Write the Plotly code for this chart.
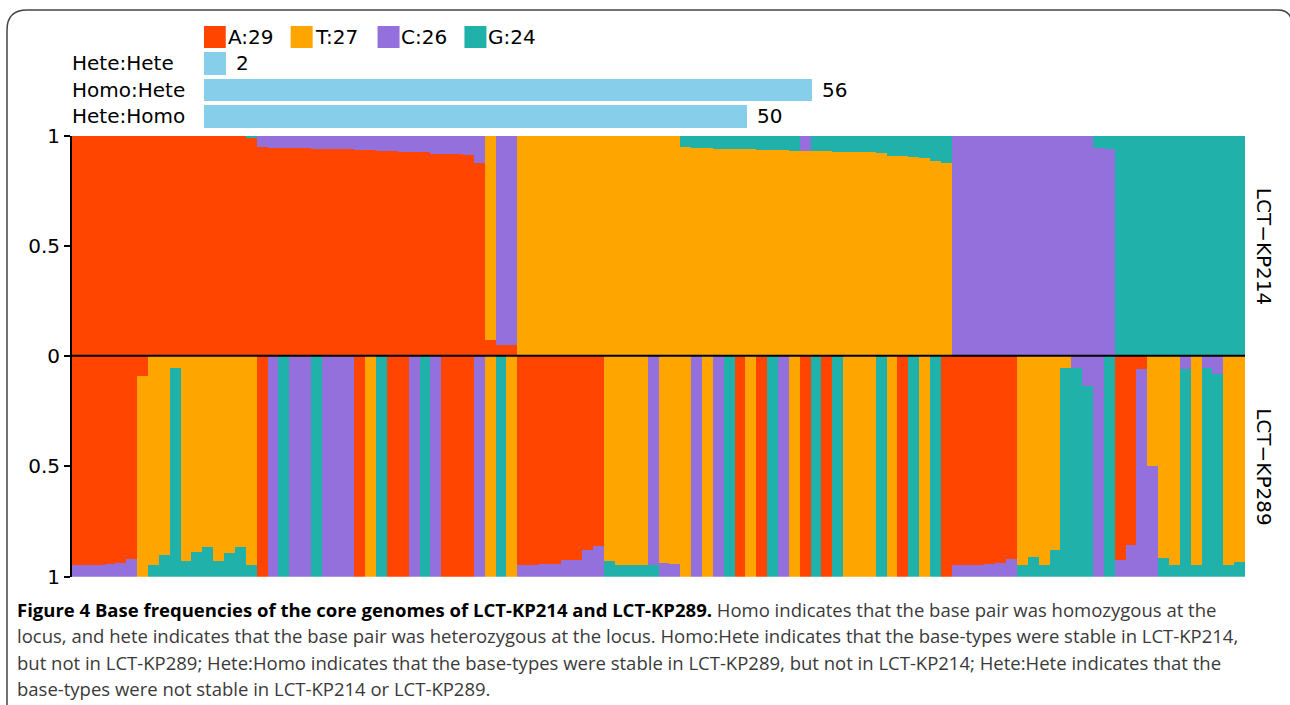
import plotly.graph_objects as go

W, H = 1290, 705

# ---------------- data ----------------
bases = ["A", "T", "C", "G"]
base_counts = [29, 27, 26, 24]
base_colors = ["#FF4500", "#FFA500", "#9370DB", "#20B2AA"]

pair_types = ["Hete:Hete", "Homo:Hete", "Hete:Homo"]
pair_counts = [2, 56, 50]

# LCT-KP214 base fractions per locus (A, T, C, G)
kp214_A = ([1.0] * 16 + [0.99] +
           [0.95, 0.947, 0.946, 0.945, 0.944, 0.943, 0.942, 0.941, 0.94, 0.935, 0.935,
            0.934, 0.933, 0.926, 0.926, 0.925, 0.917, 0.917, 0.916, 0.912, 0.876] +
           [0.07, 0.05, 0.05] + [0.0] * 67)
kp214_T = ([0.0] * 38 + [0.93, 0.0, 0.0] + [1.0] * 15 +
           [0.95, 0.946, 0.944, 0.943, 0.941, 0.94, 0.939, 0.938, 0.936, 0.935, 0.933,
            0.932, 0.932, 0.931, 0.927, 0.927, 0.926, 0.926, 0.922, 0.91, 0.91, 0.903,
            0.898, 0.888, 0.876] + [0.0] * 27)
kp214_C = ([0.0] * 17 +
           [0.05, 0.053, 0.054, 0.055, 0.056, 0.057, 0.058, 0.059, 0.06, 0.065, 0.065,
            0.066, 0.067, 0.074, 0.074, 0.075, 0.083, 0.083, 0.084, 0.088, 0.124] +
           [0.0, 0.95, 0.95] + [0.0] * 26 + [0.068] + [0.0] * 13 +
           [1.0] * 13 + [0.947, 0.941] + [0.0] * 12)
kp214_G = ([0.0] * 16 + [0.01] + [0.0] * 39 +
           [0.05, 0.054, 0.056, 0.057, 0.059, 0.06, 0.061, 0.062, 0.064, 0.065, 0.067,
            0.0, 0.068, 0.069, 0.073, 0.073, 0.074, 0.074, 0.078, 0.09, 0.09, 0.097,
            0.102, 0.112, 0.124] + [0.0] * 13 + [0.053, 0.059] + [1.0] * 12)

# LCT-KP289 base fractions per locus (A, T, C, G), 10 loci per row
kp289_A = [0.947, 0.944, 0.944, 0.94, 0.935, 0.917, 0.09, 0, 0, 0,
           0, 0, 0, 0, 0, 0, 0, 1, 0, 0,
           0, 0, 0, 0, 0, 0, 1, 0, 0, 1,
           1, 0, 0, 0, 1, 1, 1, 0, 0, 0,
           0, 0.944, 0.944, 0.942, 0.94, 0.925, 0.922, 0.88, 0.861, 0,
           0, 0, 0, 0, 0, 0, 0, 0, 0, 0,
           0, 1, 0, 1, 0, 0, 0, 1, 0, 1,
           0, 0, 0, 0, 0, 0, 1, 0, 0, 0,
           1, 0.947, 0.944, 0.944, 0.94, 0.935, 0.917, 0, 0, 0,
           0, 0, 0, 0, 0, 0, 0.921, 0.855, 0.06, 0,
           0, 0, 0, 0, 0, 0, 0, 0]
kp289_T = [0, 0, 0, 0, 0, 0, 0.91, 0.944, 0.9, 0.056,
           0.927, 0.888, 0.864, 0.927, 0.891, 0.864, 0.947, 0, 0, 0,
           0, 0, 0, 0, 0, 0, 0, 1, 0, 0,
           0, 0, 0, 0, 0, 0, 0, 0, 1, 0,
           1, 0, 0, 0, 0, 0, 0, 0, 0, 0.929,
           0.944, 0.944, 0.944, 0, 0.935, 0.94, 1, 0, 1, 0,
           0, 0, 1, 0, 0, 0, 1, 0, 0, 0,
           0, 1, 1, 1, 0, 1, 0, 0, 1, 0,
           0, 0, 0, 0, 0, 0, 0, 0.944, 0.91, 0.944,
           0.88, 0.056, 0, 0, 0, 0, 0, 0, 0, 0.497,
           0.914, 0.944, 0, 0.944, 0, 0, 0.947, 0.932]
kp289_C = [0.053, 0.056, 0.056, 0.06, 0.065, 0.083, 0, 0, 0, 0,
           0, 0, 0, 0, 0, 0, 0, 0, 1, 0,
           1, 1, 0, 1, 1, 1, 0, 0, 0, 0,
           0, 1, 0, 1, 0, 0, 0, 1, 0, 0,
           0, 0.056, 0.056, 0.058, 0.06, 0.075, 0.078, 0.12, 0.139, 0,
           0, 0, 0, 0.944, 0.065, 0.06, 0, 1, 0, 1,
           0, 0, 0, 0, 0, 1, 0, 0, 0, 0,
           0, 0, 0, 0, 0, 0, 0, 0, 0, 0,
           0, 0.053, 0.056, 0.056, 0.06, 0.065, 0.083, 0, 0, 0,
           0, 0, 0.056, 0.136, 1, 0, 0.079, 0.145, 0.94, 0.503,
           0, 0, 0.059, 0, 0.056, 0.083, 0, 0]
kp289_G = [0, 0, 0, 0, 0, 0, 0, 0.056, 0.1, 0.944,
           0.073, 0.112, 0.136, 0.073, 0.109, 0.136, 0.053, 0, 0, 1,
           0, 0, 1, 0, 0, 0, 0, 0, 1, 0,
           0, 0, 1, 0, 0, 0, 0, 0, 0, 1,
           0, 0, 0, 0, 0, 0, 0, 0, 0, 0.071,
           0.056, 0.056, 0.056, 0.056, 0, 0, 0, 0, 0, 0,
           1, 0, 0, 0, 1, 0, 0, 0, 1, 0,
           1, 0, 0, 0, 1, 0, 0, 1, 0, 1,
           0, 0, 0, 0, 0, 0, 0, 0.056, 0.09, 0.056,
           0.12, 0.944, 0.944, 0.864, 0, 1, 0, 0, 0, 0,
           0.086, 0.056, 0.941, 0.056, 0.944, 0.917, 0.053, 0.068]

kp214 = [kp214_A, kp214_T, kp214_C, kp214_G]
kp289 = [kp289_A, kp289_T, kp289_C, kp289_G]
n_loci = len(kp214_A)
loci = list(range(n_loci))

caption_lines = [
    "<b>Figure 4 Base frequencies of the core genomes of LCT-KP214 and LCT-KP289.</b> "
    "Homo indicates that the base pair was homozygous at the",
    "locus, and hete indicates that the base pair was heterozygous at the locus. "
    "Homo:Hete indicates that the base-types were stable in LCT-KP214,",
    "but not in LCT-KP289; Hete:Homo indicates that the base-types were stable in LCT-KP289, "
    "but not in LCT-KP214; Hete:Hete indicates that the",
    "base-types were not stable in LCT-KP214 or LCT-KP289.",
]

# ---------------- layout helpers ----------------
def fx(p):
    return p / W

def fy(p):
    return 1 - p / H

FONT = "DejaVu Sans"
CAP_FONT = "Open Sans"
PLOT_L, PLOT_R = 72, 1245
TOP_Y1, MID_Y, BOT_Y1 = 136, 355.7, 576.7
UNIT = (PLOT_R - PLOT_L) / n_loci  # px per locus, also px per count
BAR_X0 = 203.9
SEG_LINE = dict(width=0)

fig = go.Figure()

for i, b in enumerate(bases):
    fig.add_trace(go.Bar(x=loci, y=kp214[i], marker=dict(color=base_colors[i], line=SEG_LINE),
                         xaxis="x", yaxis="y", showlegend=False, name=b))
for i, b in enumerate(bases):
    fig.add_trace(go.Bar(x=loci, y=kp289[i], marker=dict(color=base_colors[i], line=SEG_LINE),
                         xaxis="x2", yaxis="y2", showlegend=False, name=b))

# counts bars
fig.add_trace(go.Bar(x=pair_counts, y=[1, 2, 3], orientation="h", width=0.85,
                     marker=dict(color="#87CEEB", line=dict(width=0)),
                     xaxis="x3", yaxis="y3", showlegend=False))
# legend squares
fig.add_trace(go.Scatter(x=[8 * i + 1 for i in range(len(bases))], y=[0] * len(bases),
                         mode="markers", marker=dict(symbol="square", size=22,
                                                     color=base_colors, line=dict(width=0)),
                         xaxis="x3", yaxis="y3", showlegend=False, hoverinfo="skip"))

annotations = []
for i, b in enumerate(bases):
    annotations.append(dict(x=8 * i + 2, y=0, xref="x3", yref="y3", xanchor="left",
                            yanchor="middle", showarrow=False, xshift=0,
                            text=f"{b}:{base_counts[i]}",
                            font=dict(family=FONT, size=20, color="black")))
for j, (lab, c) in enumerate(zip(pair_types, pair_counts)):
    annotations.append(dict(x=fx(70), y=j + 1, xref="paper", yref="y3", xanchor="left",
                            yanchor="middle", showarrow=False, text=lab,
                            font=dict(family=FONT, size=20, color="black")))
    annotations.append(dict(x=c, y=j + 1, xref="x3", yref="y3", xanchor="left",
                            yanchor="middle", showarrow=False, text=str(c), xshift=8,
                            font=dict(family=FONT, size=20, color="black")))

for lab, yc in [("LCT\u2212KP214", (TOP_Y1 + MID_Y) / 2), ("LCT\u2212KP289", (MID_Y + BOT_Y1) / 2)]:
    annotations.append(dict(x=fx(1264), y=fy(yc), xref="paper", yref="paper",
                            xanchor="center", yanchor="middle", showarrow=False,
                            textangle=90, text=lab,
                            font=dict(family=FONT, size=20, color="black")))

for k, line in enumerate(caption_lines):
    line = line.replace("<b>", "<b><span style='color:black'>").replace("</b>", "</span></b>")
    annotations.append(dict(x=fx(15), y=fy(609 + 26.5 * k), xref="paper", yref="paper",
                            xanchor="left", yanchor="middle", showarrow=False, text=line,
                            font=dict(family=CAP_FONT, size=18.5, color="#3a3a3a")))

shapes = [
    dict(type="line", xref="paper", yref="paper", x0=fx(70), x1=fx(PLOT_R),
         y0=fy(MID_Y), y1=fy(MID_Y), line=dict(color="black", width=2), layer="above"),
    dict(type="path", xref="paper", yref="paper",
         path=(f"M {fx(7)},{fy(720)} L {fx(7)},{fy(30)} Q {fx(7)},{fy(10)} {fx(27)},{fy(10)} "
               f"L {fx(1278)},{fy(10)} Q {fx(1290)},{fy(10)} {fx(1292)},{fy(22)}"),
         line=dict(color="#444444", width=1.5)),
]

yaxis_common = dict(ticks="outside", ticklen=6, tickwidth=2, tickcolor="black",
                    showline=True, linecolor="black", linewidth=2, showgrid=False,
                    zeroline=False, automargin=False,
                    tickfont=dict(family=FONT, size=20, color="black"))
xaxis_common = dict(domain=[fx(PLOT_L), fx(PLOT_R)], range=[-0.5, n_loci - 0.5],
                    visible=False, showgrid=False, zeroline=False, automargin=False)

fig.update_layout(
    template="none",
    width=W, height=H, autosize=False,
    margin=dict(l=0, r=0, t=0, b=0, pad=0, autoexpand=False),
    paper_bgcolor="white", plot_bgcolor="white",
    barmode="stack", bargap=0, showlegend=False,
    xaxis=dict(**xaxis_common, anchor="y"),
    yaxis=dict(**yaxis_common, domain=[fy(MID_Y), fy(TOP_Y1)], range=[0, 1],
               tickvals=[0, 0.5, 1], ticktext=["0", "0.5", "1"], anchor="x"),
    xaxis2=dict(**xaxis_common, anchor="y2"),
    yaxis2=dict(**yaxis_common, domain=[fy(BOT_Y1), fy(MID_Y)], range=[1, 0],
                tickvals=[0.5, 1], ticktext=["0.5", "1"], anchor="x2"),
    xaxis3=dict(domain=[fx(BAR_X0), fx(BAR_X0 + UNIT * 80)], range=[0, 80],
                visible=False, anchor="y3", automargin=False),
    yaxis3=dict(domain=[fy(37 + 26.4 * 3.5), fy(37 - 26.4 * 0.5)], range=[3.5, -0.5],
                visible=False, anchor="x3", automargin=False),
    annotations=annotations, shapes=shapes,
    hovermode=False,
)

fig.write_html("out.html", config={"displayModeBar": False},
               post_script="document.body.style.margin='0';document.body.style.overflow='hidden';")
